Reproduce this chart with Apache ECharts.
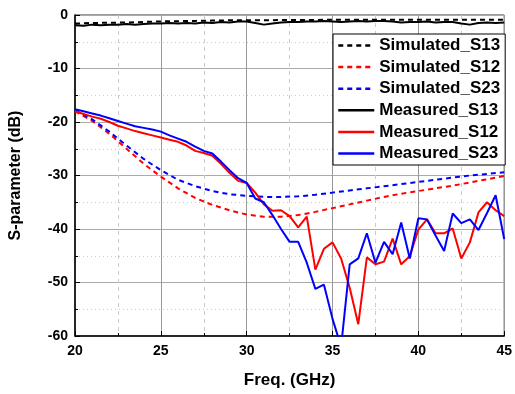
<!DOCTYPE html>
<html>
<head>
<meta charset="utf-8">
<script src="https://cdn.jsdelivr.net/npm/echarts@6/dist/echarts.min.js"></script>
<style>
html,body{margin:0;padding:0;background:#fff;}
#chart{width:515px;height:394px;}
</style>
</head>
<body>
<div id="chart"></div>
<script>
// Frequencies (GHz)
var freqMeas = [20,20.5,21,21.5,22,22.5,23,23.5,24,24.5,25,25.5,26,26.5,27,27.5,28,28.5,29,29.5,30,30.5,31,31.5,32,32.5,33,33.5,34,34.5,35,35.5,36,36.5,37,37.5,38,38.5,39,39.5,40,40.5,41,41.5,42,42.5,43,43.5,44,44.5,45];
var freqSim = [20,21,22,23,24,25,26,27,28,29,30,31,32,33,34,35,36,37,38,39,40,41,42,43,44,45];

// Simulated (dB)
var simS13 = [-1.6,-1.5,-1.45,-1.4,-1.3,-1.2,-1.15,-1.1,-1.05,-1.0,-1.0,-0.98,-0.95,-0.93,-0.92,-0.9,-0.9,-0.9,-0.9,-0.9,-0.9,-0.9,-0.9,-0.9,-0.9,-0.9];
var simS12 = [-18.0,-19.8,-22.2,-25.0,-27.8,-30.2,-32.4,-34.2,-35.5,-36.5,-37.3,-37.7,-37.7,-37.4,-36.8,-36.1,-35.4,-34.7,-34.0,-33.4,-32.9,-32.4,-31.9,-31.3,-30.7,-30.1];
var simS23 = [-17.8,-19.5,-21.8,-24.4,-26.9,-29.0,-30.8,-32.0,-32.9,-33.5,-33.8,-34.0,-34.0,-33.9,-33.6,-33.2,-32.8,-32.4,-32.0,-31.6,-31.2,-30.8,-30.4,-30.0,-29.7,-29.4];

// Measured (dB)
var measS13 = [-1.9,-2.0,-1.8,-1.9,-1.8,-1.8,-1.7,-1.8,-1.7,-1.6,-1.6,-1.5,-1.6,-1.5,-1.6,-1.4,-1.5,-1.3,-1.4,-1.2,-1.2,-1.5,-1.8,-1.6,-1.4,-1.3,-1.3,-1.2,-1.2,-1.1,-1.2,-1.3,-1.2,-1.1,-1.2,-1.1,-1.1,-1.2,-1.4,-1.3,-1.3,-1.2,-1.4,-1.3,-1.3,-1.6,-1.8,-1.5,-1.4,-1.5,-1.4];
var measS12 = [-18.0,-18.5,-19.0,-19.4,-20.0,-20.7,-21.2,-21.7,-22.1,-22.5,-22.9,-23.3,-23.7,-24.4,-25.4,-25.8,-26.3,-27.8,-29.5,-31.0,-31.4,-33.2,-35.4,-36.6,-36.5,-37.6,-39.7,-37.7,-47.6,-43.7,-42.5,-45.5,-51.0,-57.8,-45.3,-46.6,-46.1,-41.8,-46.6,-45.1,-40.1,-38.2,-40.8,-40.8,-39.9,-45.5,-42.5,-36.9,-35.0,-36.5,-37.6];
var measS23 = [-17.6,-18.0,-18.4,-18.8,-19.3,-19.8,-20.3,-20.8,-21.1,-21.4,-21.8,-22.5,-23.1,-23.7,-24.6,-25.4,-25.9,-27.4,-29.0,-30.5,-31.4,-34.3,-35.0,-37.4,-40.0,-42.4,-42.4,-46.3,-51.2,-50.4,-56.8,-62.0,-46.6,-45.5,-40.8,-46.3,-42.4,-44.7,-38.8,-45.5,-38.0,-38.2,-41.2,-44.1,-37.1,-38.9,-38.2,-40.2,-37.0,-33.7,-41.9];

var seriesNames = ['Simulated_S13','Simulated_S12','Simulated_S23','Measured_S13','Measured_S12','Measured_S23'];
var seriesColors = ['#000000','#ff0000','#0000ff','#000000','#ff0000','#0000ff'];

function pairs(xs, ys){ return xs.map(function(x,i){ return [x, ys[i]]; }); }

var font = 'Arial, "Liberation Sans", sans-serif';

function mk(name, xs, ys, color, dashed){
  return {
    name: name, type: 'line', data: pairs(xs, ys),
    symbol: 'none', showSymbol: false, smooth: false,
    lineStyle: { color: color, width: 2, type: dashed ? [5,4] : 'solid' },
    itemStyle: { color: color },
    emphasis: { disabled: true },
    animation: false
  };
}

var chart = echarts.init(document.getElementById('chart'), null, {renderer:'canvas'});
chart.setOption({
  animation: false,
  backgroundColor: '#fff',
  grid: { left: 75, right: 6, top: 15, bottom: 57, show: true, borderColor: '#333', borderWidth: 1, backgroundColor: 'transparent' },
  legend: {
    data: seriesNames,
    orient: 'vertical',
    left: 333, top: 34,
    padding: [3, 5, 3, 4],
    itemWidth: 36, itemHeight: 14, itemGap: 4.6,
    backgroundColor: '#fff',
    borderColor: '#000', borderWidth: 1,
    itemStyle: { opacity: 0 },
    lineStyle: { width: 2.5 },
    textStyle: { fontFamily: font, fontWeight: 'bold', fontSize: 17, color: '#000', lineHeight: 17 }
  },
  xAxis: {
    type: 'value', min: 20, max: 45, interval: 5,
    name: 'Freq. (GHz)', nameLocation: 'middle', nameGap: 36,
    nameTextStyle: { fontFamily: font, fontWeight: 'bold', fontSize: 17, color: '#000' },
    axisLine: { show: true, onZero: false, lineStyle: { color: '#000', width: 1.5 } },
    axisTick: { show: true, inside: true, length: 5, lineStyle: { color: '#000', width: 1 } },
    minorTick: { show: true, splitNumber: 2, length: 3, lineStyle: { color: '#000', width: 1 } },
    axisLabel: { fontFamily: font, fontWeight: 'bold', fontSize: 14, color: '#000', margin: 8 },
    splitLine: { show: true, lineStyle: { color: '#999', width: 1 } },
    minorSplitLine: { show: true, lineStyle: { color: '#ccc', width: 1, type: [4,4] } }
  },
  yAxis: {
    type: 'value', min: -60, max: 0, interval: 10,
    name: 'S-parameter (dB)', nameLocation: 'middle', nameGap: 51, nameRotate: 90,
    nameTextStyle: { fontFamily: font, fontWeight: 'bold', fontSize: 16, color: '#000' },
    axisLine: { show: true, onZero: false, lineStyle: { color: '#000', width: 1.5 } },
    axisTick: { show: true, inside: true, length: 5, lineStyle: { color: '#000', width: 1 } },
    minorTick: { show: true, splitNumber: 2, length: 3, lineStyle: { color: '#000', width: 1 } },
    axisLabel: { fontFamily: font, fontWeight: 'bold', fontSize: 14, color: '#000', margin: 7 },
    splitLine: { show: true, lineStyle: { color: '#aaa', width: 1 } },
    minorSplitLine: { show: true, lineStyle: { color: '#ccc', width: 1, type: [1,3] } }
  },
  series: [
    mk(seriesNames[0], freqSim, simS13, seriesColors[0], true),
    mk(seriesNames[1], freqSim, simS12, seriesColors[1], true),
    mk(seriesNames[2], freqSim, simS23, seriesColors[2], true),
    mk(seriesNames[3], freqMeas, measS13, seriesColors[3], false),
    mk(seriesNames[4], freqMeas, measS12, seriesColors[4], false),
    mk(seriesNames[5], freqMeas, measS23, seriesColors[5], false)
  ]
});
</script>
</body>
</html>
